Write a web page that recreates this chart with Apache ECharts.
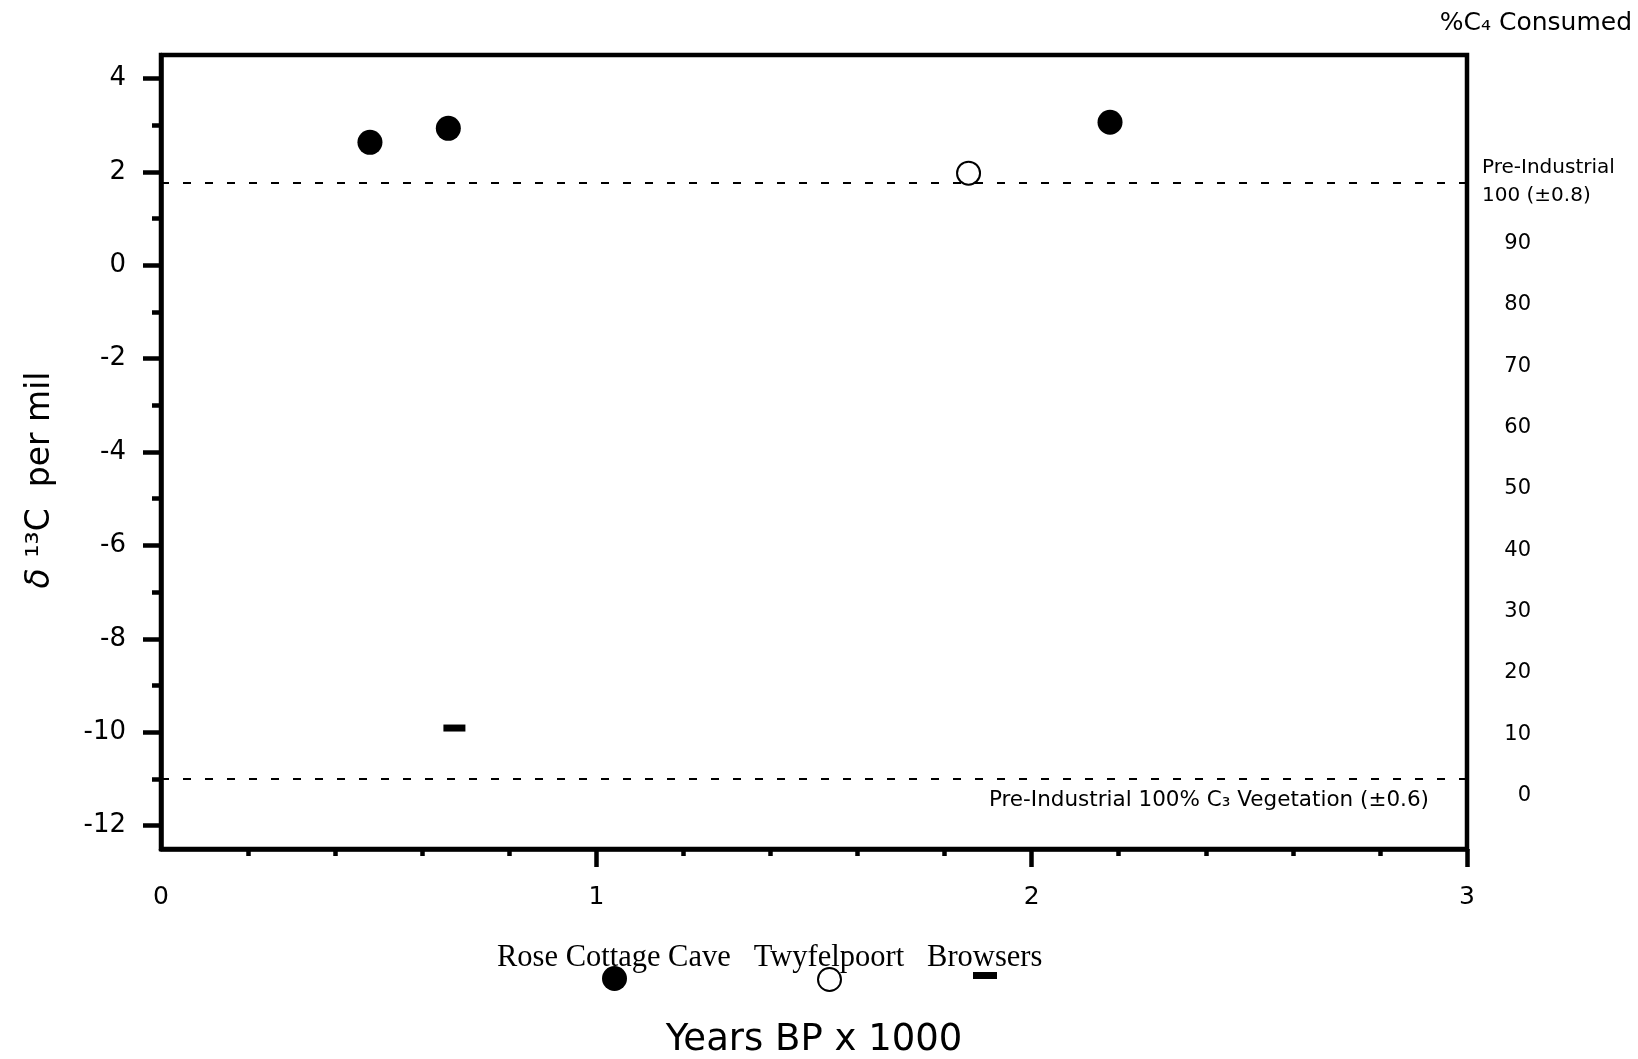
<!DOCTYPE html>
<html>
<head>
<meta charset="utf-8">
<script src="https://cdn.jsdelivr.net/npm/echarts@6/dist/echarts.min.js"></script>
<style>html,body{margin:0;padding:0;background:#fff;}#chart{width:1638px;height:1059px;}</style>
</head>
<body>
<div id="chart"></div>
<script>
// ---- data ----
const roseYears = [0.48, 0.66, 2.18];
const roseD13C = [2.63, 2.93, 3.06];
const twyfYears = [1.855];
const twyfD13C = [1.97];
const browserYears = [0.674];
const browserD13C = [-9.91];
const c4Line = 1.76;    // pre-industrial 100% C4
const c3Line = -11;     // pre-industrial 100% C3 vegetation
const yMajorTicks = [-12, -10, -8, -6, -4, -2, 0, 2, 4];
const yMinorTicks = [-11, -9, -7, -5, -3, -1, 1, 3];
const xLabels = [0, 1, 2, 3];
const xMajorTicks = [1, 2, 3];
const xMinorTicks = [0.2, 0.4, 0.6, 0.8, 1.2, 1.4, 1.6, 1.8, 2.2, 2.4, 2.6, 2.8];
const pctLabels = [0, 10, 20, 30, 40, 50, 60, 70, 80, 90, 100];
const seriesNames = ['Rose Cottage Cave', 'Twyfelpoort', 'Browsers'];

const SANS = 'DejaVu Sans';
const SERIF = 'Liberation Serif';
const zip = (a, b) => a.map((v, i) => [v, b[i]]);

const chart = echarts.init(document.getElementById('chart'));
chart.setOption({
  backgroundColor: '#fff',
  animation: false,
  title: {
    text: '%C\u2084 Consumed', right: 6, top: 11, padding: 0,
    textStyle: { fontFamily: SANS, fontSize: 25, fontWeight: 'normal', color: '#000' }
  },
  grid: { left: 161, top: 55, right: 171, bottom: 210, outerBoundsMode: 'none', containLabel: false,
    show: true, borderColor: '#000', borderWidth: 4.5, backgroundColor: 'transparent' },
  legend: [
    { data: seriesNames, icon: 'none', itemWidth: 0, itemHeight: 0, itemGap: 18, left: 492, top: 942, padding: 0,
      selectedMode: false, textStyle: { fontFamily: SERIF, fontSize: 30.5, color: '#000', lineHeight: 31 } },
    { data: [seriesNames[0]], itemWidth: 25, itemHeight: 25, left: 602, top: 966, padding: 0, selectedMode: false, formatter: () => '' },
    { data: [seriesNames[1]], itemWidth: 23, itemHeight: 23, left: 817, top: 967, padding: 0, selectedMode: false, formatter: () => '' },
    { data: [seriesNames[2]], itemWidth: 24, itemHeight: 7, left: 973, top: 972, padding: 0, selectedMode: false, formatter: () => '' }
  ],
  xAxis: [
    { type: 'value', min: 0, max: 3, position: 'bottom',
      name: 'Years BP x 1000', nameLocation: 'middle', nameGap: 173,
      nameTextStyle: { fontFamily: SANS, fontSize: 37, color: '#000' },
      axisLine: { show: true, onZero: false, lineStyle: { color: '#000', width: 4.5 } },
      axisTick: { show: true, customValues: xMajorTicks, length: 18, lineStyle: { color: '#000', width: 4.5 } },
      axisLabel: { customValues: xLabels, margin: 36, fontFamily: SANS, fontSize: 25, color: '#000' },
      splitLine: { show: false } },
    { type: 'value', min: 0, max: 3, position: 'bottom',
      axisLine: { show: false, onZero: false },
      axisTick: { show: true, customValues: xMinorTicks, length: 7, lineStyle: { color: '#000', width: 4.5 } },
      axisLabel: { show: false }, splitLine: { show: false } }
  ],
  yAxis: [
    { type: 'value', min: -12.5, max: 4.5, position: 'left',
      name: '{d|\u03B4} \u00B9\u00B3C  per mil', nameLocation: 'middle', nameGap: 104, nameRotate: 90,
      nameTextStyle: { fontFamily: SANS, fontSize: 33, color: '#000', padding: [0, 56, 0, 0],
        rich: { d: { fontFamily: SANS, fontSize: 33, fontStyle: 'italic', color: '#000' } } },
      axisLine: { show: true, onZero: false, lineStyle: { color: '#000', width: 4.5 } },
      axisTick: { show: true, customValues: yMajorTicks, length: 18, lineStyle: { color: '#000', width: 4.5 } },
      axisLabel: { customValues: yMajorTicks, margin: 35, fontFamily: SANS, fontSize: 26, color: '#000' },
      splitLine: { show: false } },
    { type: 'value', min: -12.5, max: 4.5, position: 'left',
      axisLine: { show: false, onZero: false },
      axisTick: { show: true, customValues: yMinorTicks, length: 9, lineStyle: { color: '#000', width: 4.5 } },
      axisLabel: { show: false }, splitLine: { show: false } },
    { type: 'value', min: -8.7, max: 120.7, position: 'right',
      axisLine: { show: false, onZero: false }, axisTick: { show: false }, splitLine: { show: false },
      axisLabel: {
        customValues: pctLabels, margin: 15, color: '#000', fontFamily: SANS, fontSize: 20,
        formatter: v => v === 100 ? '{a|Pre-Industrial}\n{a|100 (\u00B10.8)}' : '{n|' + v + '}',
        rich: {
          a: { fontFamily: SANS, fontSize: 20, color: '#000', lineHeight: 28, align: 'left' },
          n: { fontFamily: SANS, fontSize: 21, color: '#000', width: 49, align: 'right' }
        }
      } }
  ],
  series: [
    { name: seriesNames[0], type: 'scatter', xAxisIndex: 0, yAxisIndex: 0, symbol: 'circle', symbolSize: 25,
      itemStyle: { color: '#000', opacity: 1 }, data: zip(roseYears, roseD13C),
      markLine: {
        silent: true, animation: false, symbol: ['none', 'none'],
        lineStyle: { color: '#000', type: [8, 14], width: 2, opacity: 1 },
        data: [
          { yAxis: c4Line, label: { show: false } },
          { yAxis: c3Line, label: { show: true, position: 'insideEndBottom', distance: [38, 10],
              formatter: 'Pre-Industrial 100% C\u2083 Vegetation (\u00B10.6)',
              fontFamily: SANS, fontSize: 21.5, color: '#000' } }
        ]
      } },
    { name: seriesNames[1], type: 'scatter', xAxisIndex: 0, yAxisIndex: 0, symbol: 'circle', symbolSize: 23,
      itemStyle: { color: '#fff', borderColor: '#000', borderWidth: 2, opacity: 1 }, data: zip(twyfYears, twyfD13C) },
    { name: seriesNames[2], type: 'scatter', xAxisIndex: 0, yAxisIndex: 0, symbol: 'rect', symbolSize: [22, 7],
      itemStyle: { color: '#000', opacity: 1 }, data: zip(browserYears, browserD13C) }
  ]
});
</script>
</body>
</html>
